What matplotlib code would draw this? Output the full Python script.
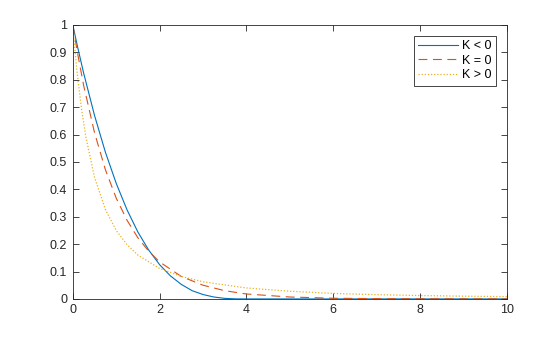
import matplotlib
matplotlib.use('Agg')
import matplotlib.pyplot as plt

# values
x_neg = [0, 0.1, 0.25, 0.5, 0.75, 1, 1.25, 1.5, 1.75, 2, 2.25, 2.5, 2.75, 3, 3.25, 3.5, 3.75, 4, 10]
y_neg = [1, 0.927, 0.824, 0.670, 0.536, 0.422, 0.325, 0.244, 0.178, 0.125, 0.084, 0.053, 0.030,
         0.016, 0.007, 0.002, 0.0002, 0, 0]

x_zero = [0, 0.1, 0.25, 0.5, 0.75, 1, 1.25, 1.5, 1.75, 2, 2.5, 3, 3.5, 4, 5, 6, 7, 8, 10]
y_zero = [1, 0.905, 0.779, 0.607, 0.472, 0.368, 0.287, 0.223, 0.174, 0.135, 0.082, 0.050,
          0.030, 0.018, 0.007, 0.0025, 0.001, 0.0003, 0]

x_pos = [0, 0.05, 0.1, 0.2, 0.3, 0.5, 0.75, 1, 1.25, 1.5, 2, 2.5, 3, 4, 5, 6, 7, 8, 9, 10]
y_pos = [1, 0.907, 0.826, 0.694, 0.592, 0.444, 0.327, 0.25, 0.198, 0.16, 0.111, 0.082,
         0.0625, 0.04, 0.028, 0.020, 0.0156, 0.0123, 0.010, 0.0083]

labels = ['K < 0', 'K = 0', 'K > 0']

plt.rcParams['font.family'] = ['Liberation Sans', 'DejaVu Sans']
plt.rcParams['font.size'] = 9

fig = plt.figure(figsize=(5.6, 3.37), dpi=100)
ax = fig.add_axes([0.13, 0.113, 0.775, 0.813])

ax.plot(x_neg, y_neg, color='#0072BD', lw=0.8, ls='-', label=labels[0])
ax.plot(x_zero, y_zero, color='#D95319', lw=0.8, ls=(0, (8, 5)), label=labels[1])
ax.plot(x_pos, y_pos, color='#EDB120', lw=0.9, ls=(0, (1, 1.5)), label=labels[2])

ax.set_xlim(0, 10)
ax.set_ylim(0, 1)
ax.set_xticks([0, 2, 4, 6, 8, 10])
ax.set_yticks([i / 10 for i in range(11)])
ax.set_yticklabels(['0', '0.1', '0.2', '0.3', '0.4', '0.5', '0.6', '0.7', '0.8', '0.9', '1'])
ax.tick_params(direction='in', length=4, width=0.6, top=True, right=True, pad=4, colors='#262626')
for s in ax.spines.values():
    s.set_linewidth(0.6)
    s.set_color('#262626')

leg = ax.legend(loc='upper right', bbox_to_anchor=(0.975, 0.96), fontsize=9, fancybox=False,
                framealpha=1, edgecolor='#262626', handlelength=3.2, handletextpad=0.3,
                borderpad=0.35, labelspacing=0.2, borderaxespad=0)
leg.get_frame().set_linewidth(0.6)

fig.savefig('out.png', dpi=100)
